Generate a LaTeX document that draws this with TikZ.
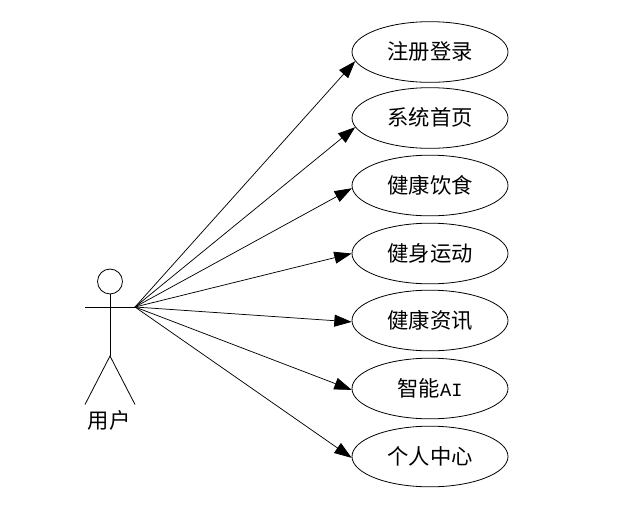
\documentclass[tikz,border=0pt]{standalone}
\usepackage{fontspec}
\setmainfont{Noto Sans CJK SC}
\newfontfamily\latinmono{Liberation Mono}
\usetikzlibrary{shapes.geometric,arrows.meta}
\newcommand{\uplabel}[1]{\raisebox{1.8pt}{#1}}
\tikzset{
  usecase/.style={draw=black,ellipse,line width=0.6pt,minimum width=117pt,minimum height=45.5pt,inner sep=0pt,font=\fontsize{16}{18}\selectfont},
  actorline/.style={draw=black,line width=0.6pt},
  assoc/.style={draw=black,line width=0.55pt,-{Triangle[length=13pt,width=9pt,fill=black]}},
  actorlabel/.style={inner sep=0pt,font=\fontsize{16}{18}\selectfont}
}
\begin{document}
\begin{tikzpicture}[x=0.75pt,y=-0.75pt]
\path[use as bounding box,fill=white] (0,0) rectangle (642,504);
\node[usecase] (e1) at (430,52) {\uplabel{注册登录}};
\node[usecase] (e2) at (430,118) {\uplabel{系统首页}};
\node[usecase] (e3) at (430,185.5) {\uplabel{健康饮食}};
\node[usecase] (e4) at (430,253.5) {\uplabel{健身运动}};
\node[usecase] (e5) at (430,320.5) {\uplabel{健康资讯}};
\node[usecase] (e6) at (430,388.5) {\uplabel{智能{\latinmono\fontsize{14}{18}\selectfont AI}}};
\node[usecase] (e7) at (430,456.5) {\uplabel{个人中心}};
\node[draw=black,line width=0.6pt,circle,minimum size=18.7pt,inner sep=0pt] (head) at (110,281.5) {};
\coordinate (armL) at (85,307);
\coordinate (hand) at (135,307);
\coordinate (hip) at (110,356);
\coordinate (footL) at (85,404.5);
\coordinate (footR) at (135,404.5);
\draw[actorline] (head.south) -- (hip);
\draw[actorline] (armL) -- (hand);
\draw[actorline] (footL) -- (hip) -- (footR);
\node[actorlabel] (actorname) at (109,420) {用户};
\draw[assoc] (hand) -- (e1.187);
\draw[assoc] (hand) -- (e2.187);
\draw[assoc] (hand) -- (e3.182);
\draw[assoc] (hand) -- (e4.180);
\draw[assoc] (hand) -- (e5.181);
\draw[assoc] (hand) -- (e6.181);
\draw[assoc] (hand) -- (e7.181);
\end{tikzpicture}
\end{document}
